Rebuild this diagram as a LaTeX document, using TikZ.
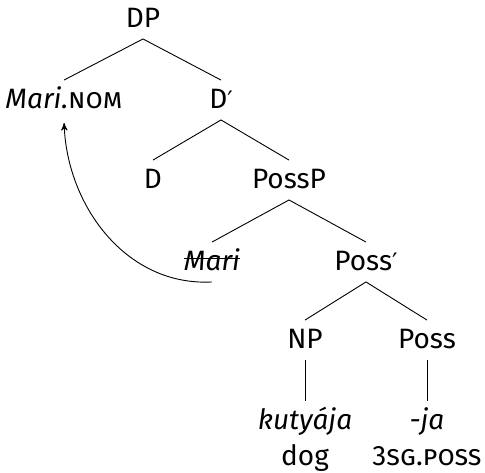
\documentclass[tikz,border=0pt]{standalone}
\usepackage{fontspec}
\setmainfont{Fira Sans}
\newfontfamily\primefont{DejaVu Sans}
\newcommand{\pbar}{{\primefont\fontsize{12}{14}\selectfont ′}}
\usetikzlibrary{arrows,positioning}

\begin{document}
\begin{tikzpicture}[-,>=stealth',auto,on grid,line width=0.45pt]
	\tikzstyle{every node}=[inner sep=0pt,text height=14pt,text depth=5.5pt,
		font=\fontsize{14}{16}\selectfont]
	\useasboundingbox (-71.5pt,9.5pt) rectangle (171pt,-226.5pt);
	\node         (DP)                                          {DP};
	\node         (MariNom) [below left=40.5pt and 39.5pt of DP]  {\textit{Mari.}\textsc{nom}};
	\node         (Dbar)    [below right=40.5pt and 39pt of DP]   {D\pbar};
	\node         (D)       [below left=40pt and 34pt of Dbar]    {D};
	\node         (PossP)   [below right=40pt and 34pt of Dbar]   {PossP};
	\node         (MariT)   [below left=41pt and 38.5pt of PossP] {\textit{Mari}};
	\node         (Possbar) [below right=41pt and 38.5pt of PossP]{Poss\pbar};
	\node         (NP)      [below left=39pt and 30.5pt of Possbar]  {NP};
	\node         (Poss)    [below right=39pt and 30.5pt of Possbar] {Poss};
	\node         (kutyaja) [below=40.5pt of NP]                  {\textit{kutyája}};
	\node         (ja)      [below=40.5pt of Poss]                {\textit{-ja}};
	\node         (dog)     [below=18pt of kutyaja]               {dog};
	\node         (gloss)   [below=18pt of ja]                    {\textsc{3sg.poss}};
	\path (DP.south) edge (MariNom.north)
	      (DP.south) edge (Dbar.north)
	      (Dbar.south) edge (D.north)
	      (Dbar.south) edge (PossP.north)
	      (PossP.south) edge (MariT.north)
	      (PossP.south) edge (Possbar.north)
	      (Possbar.south) edge (NP.north)
	      (Possbar.south) edge (Poss.north)
	      (NP.south) edge (kutyaja.north)
	      (Poss.south) edge (ja.north);
	% strike through the trace
	\draw ([yshift=2pt]MariT.west) -- ([yshift=2pt]MariT.east);
	% movement of the possessor
	\draw[->,shorten >=1.5pt] (MariT.south) to[out=183,in=-88] (MariNom.south);
\end{tikzpicture}
\end{document}
